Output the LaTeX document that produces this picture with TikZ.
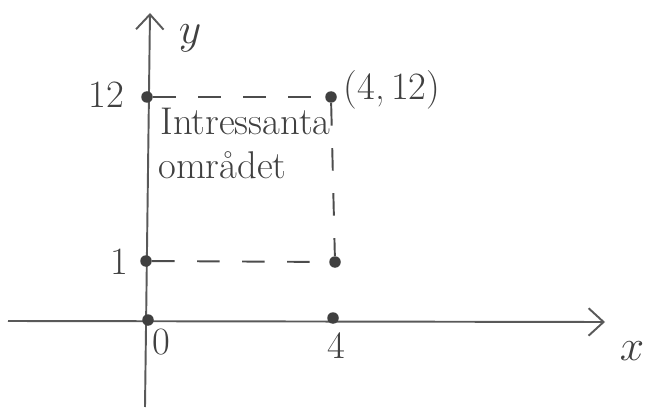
\documentclass[tikz,border=0pt]{standalone}
\usetikzlibrary{arrows.meta}
\begin{document}
\begin{tikzpicture}[
    >={Straight Barb[length=3mm,width=5.5mm]},
    font=\fontsize{22}{26}\selectfont,
    % Core styles: pencil grey strokes
    axis/.style={->, line width=1.1pt, draw=black!65},
    guide/.style={line width=1.1pt, draw=black!70, dash pattern=on 4.5mm off 4.5mm},
    dot/.style={circle, fill=black!75, inner sep=0pt, minimum size=2.3mm},
    lbl/.style={text=black!75, inner sep=1pt},
    big/.style={text=black!75, inner sep=1pt, font=\fontsize{30}{34}\selectfont},
    note/.style={text=black!75, anchor=west, inner sep=0pt}
  ]

  % Bounding box locked to the 655 x 411 sheet
  \useasboundingbox (0, 0) rectangle (13.1, 8.22);

  % ---------------------------------------------------------
  % AXES
  % ---------------------------------------------------------
  \coordinate (xstart) at (0.16, 1.80);
  \coordinate (xend) at (12.10, 1.78);
  \coordinate (ystart) at (2.90, 0.08);
  \coordinate (yend) at (3.00, 7.96);
  \draw[axis] (xstart) -- (xend);
  \draw[axis] (ystart) -- (yend);
  \node[big] (xlab) at (12.64, 1.20) {$x$};
  \node[big] (ylab) at (3.80, 7.46) {$y$};

  % ---------------------------------------------------------
  % MARKED POINTS
  % ---------------------------------------------------------
  \node[dot] (o) at (2.96, 1.82) {};
  \node[dot] (p4) at (6.66, 1.86) {};
  \node[dot] (p1) at (2.92, 3.00) {};
  \node[dot] (p12) at (2.94, 6.28) {};
  \node[dot] (q12) at (6.62, 6.28) {};
  \node[dot] (q1) at (6.70, 2.98) {};

  \node[lbl] (lo) at (3.22, 1.38) {0};
  \node[lbl] (l4) at (6.72, 1.30) {4};
  \node[lbl] (l1) at (2.38, 2.98) {1};
  \node[lbl] (l12) at (2.12, 6.32) {12};
  \node[lbl] (lq) at (7.84, 6.42) {(4,\,12)};

  % ---------------------------------------------------------
  % DASHED REGION
  % ---------------------------------------------------------
  \draw[guide] (p12) -- (q12);
  \draw[guide] (q12) -- (q1);
  \draw[guide] (p1) -- (q1);

  \node[note] (t1) at (3.20, 5.80) {Intressanta};
  \node[note] (t2) at (3.16, 4.92) {området};

\end{tikzpicture}
\end{document}
